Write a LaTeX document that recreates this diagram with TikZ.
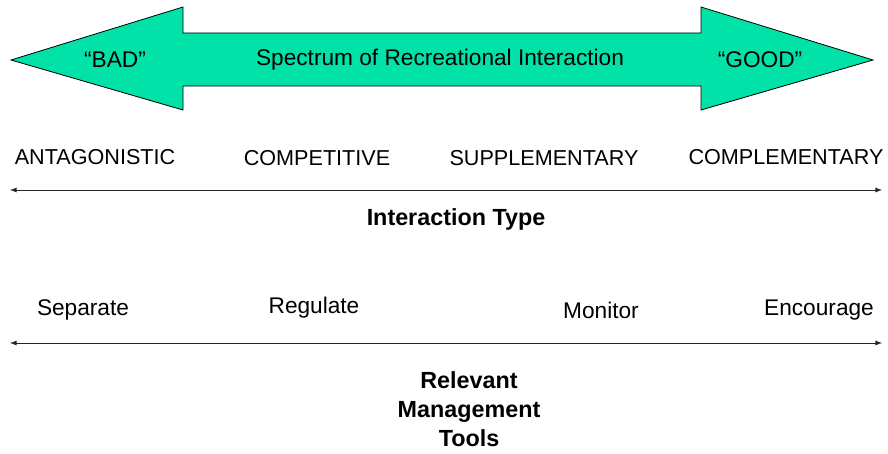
\documentclass[tikz,border=0pt]{standalone}
\usepackage{fontspec}
\setmainfont{Liberation Sans}
\definecolor{mint}{RGB}{0,226,168}
\begin{document}
\begin{tikzpicture}[x=0.75pt,y=-0.75pt,
    lbl/.style={font=\fontsize{17}{20}\selectfont,inner sep=0pt},
    caps/.style={font=\fontsize{16.2}{20}\selectfont,inner sep=0pt},
    ttl/.style={font=\bfseries\fontsize{17.5}{21.5}\selectfont,align=center,inner sep=0pt},
    axis/.style={latex-latex,line width=0.7pt,black!85}]
    \useasboundingbox (0,0) rectangle (888,453);
    % big spectrum arrow
    \draw[fill=mint,line width=0.6pt] (11,60) -- (183,7) -- (183,33) -- (701,33) -- (701,7)
        -- (873,60) -- (701,110) -- (701,86) -- (183,86) -- (183,110) -- cycle;
    \node[lbl] (bad) at (115,60) {“BAD”};
    \node[lbl] (spec) at (440,60) {Spectrum of Recreational Interaction};
    \node[lbl] (good) at (760,60) {“GOOD”};
    % interaction type
    \node[caps] (ant) at (95,157) {ANTAGONISTIC};
    \node[caps] (cpt) at (317,158) {COMPETITIVE};
    \node[caps] (sup) at (544,158) {SUPPLEMENTARY};
    \node[caps] (cpl) at (786,157) {COMPLEMENTARY};
    \coordinate (tl) at (10,190);
    \coordinate (tr) at (882,190);
    \draw[axis] (tl) -- (tr);
    \node[ttl] (itype) at (456,219) {Interaction Type};
    % management tools
    \node[lbl] (sep) at (83,310) {Separate};
    \node[lbl] (reg) at (314,308) {Regulate};
    \node[lbl] (mon) at (601,310) {Monitor};
    \node[lbl] (enc) at (819,310) {Encourage};
    \coordinate (ml) at (10,343);
    \coordinate (mr) at (882,343);
    \draw[axis] (ml) -- (mr);
    \node[ttl] (tools) at (469,409) {Relevant\\Management\\Tools};
\end{tikzpicture}
\end{document}
